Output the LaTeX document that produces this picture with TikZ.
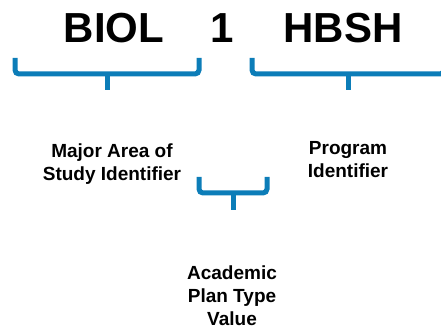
\documentclass[tikz,border=0pt]{standalone}
\usepackage{fontspec}
\setmainfont{Liberation Sans}
\definecolor{bracecol}{RGB}{12,125,184}
\begin{document}
\begin{tikzpicture}[x=1pt,y=-1pt,
  big/.style={font=\bfseries\fontsize{42}{42}\selectfont,inner sep=0pt,anchor=base},
  lbl/.style={font=\bfseries\fontsize{19}{23}\selectfont,inner sep=0pt,anchor=base,align=center},
  brace/.style={draw=bracecol,line width=5pt,rounded corners=4pt,line cap=butt}]
\useasboundingbox (0,0) rectangle (441,328);
\begin{scope}
\clip (0,0) rectangle (441,328);
% top codes
\node[big] (biol) at (114,43) {BIOL};
\node[big] (one) at (222,43) {1};
\node[big] (hbsh) at (343,43) {HBSH};
% braces
\coordinate (b1l) at (15,58);
\coordinate (b1r) at (199,58);
\coordinate (b1s) at (107,90);
\draw[brace] (b1l) |- (b1s |- 0,74) -| (b1r);
\draw[draw=bracecol,line width=5pt] (107,73) -- (b1s);
\coordinate (b2l) at (252,58);
\coordinate (b2r) at (444,58);
\coordinate (b2s) at (348,90);
\draw[brace] (b2l) |- (b2s |- 0,74) -| (b2r);
\draw[draw=bracecol,line width=5pt] (348,73) -- (b2s);
\coordinate (b3l) at (199,177);
\coordinate (b3r) at (267,177);
\coordinate (b3s) at (233,210);
\draw[brace] (b3l) |- (b3s |- 0,193) -| (b3r);
\draw[draw=bracecol,line width=5pt] (233,192) -- (b3s);
% labels
\node[lbl] (major) at (112,181) {Major Area of\\Study Identifier};
\node[lbl] (prog) at (348,178) {Program\\Identifier};
\node[lbl] (acad) at (232,325) {Academic\\Plan Type\\Value};
\end{scope}
\end{tikzpicture}
\end{document}
